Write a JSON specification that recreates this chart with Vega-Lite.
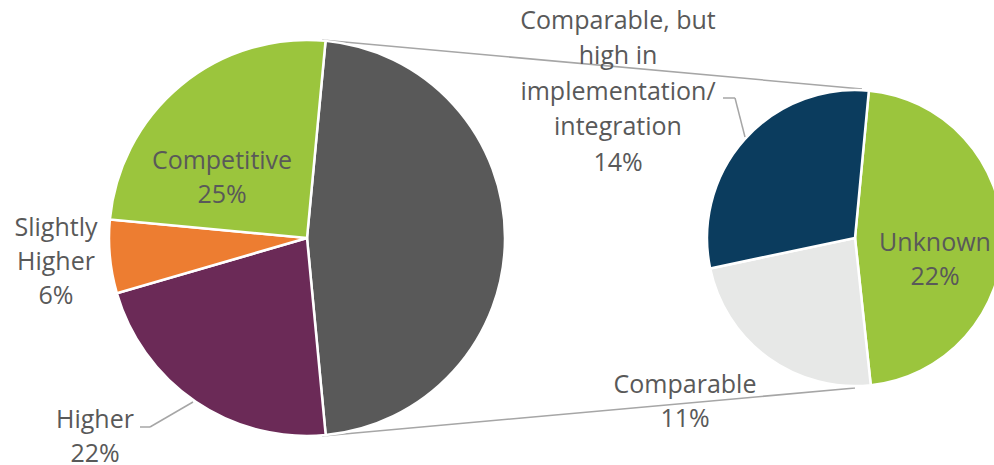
{
  "$schema": "https://vega.github.io/schema/vega-lite/v6.json",
  "width": 994,
  "height": 465,
  "padding": 0,
  "autosize": {"type": "none"},
  "background": "#ffffff",
  "config": {"view": {"stroke": null}},
  "datasets": {
    "slices": [
      {"pie": "main", "category": "Other", "value": 47, "order": 1, "label": ""},
      {"pie": "main", "category": "Higher", "value": 22, "order": 2, "label": "Higher\n22%"},
      {"pie": "main", "category": "Slightly Higher", "value": 6, "order": 3, "label": "Slightly\nHigher\n6%"},
      {"pie": "main", "category": "Competitive", "value": 25, "order": 4, "label": "Competitive\n25%"},
      {"pie": "detail", "category": "Unknown", "value": 22, "order": 1, "label": "Unknown\n22%"},
      {"pie": "detail", "category": "Comparable", "value": 11, "order": 2, "label": "Comparable\n11%"},
      {"pie": "detail", "category": "Comparable, but high in implementation/integration", "value": 14, "order": 3, "label": "Comparable, but\nhigh in\nimplementation/\nintegration\n14%"}
    ],
    "links": [
      {"pie": "main", "to": "detail", "edge": "upper"},
      {"pie": "main", "to": "detail", "edge": "lower"}
    ]
  },
  "data": {"name": "slices"},
  "encoding": {
    "x": {"field": "pie", "type": "nominal", "scale": {"type": "point", "domain": ["main", "detail"], "range": [307, 855], "padding": 0}, "axis": null},
    "y": {"field": "pie", "type": "nominal", "scale": {"type": "point", "domain": ["main", "detail"], "range": [238, 238], "padding": 0}, "axis": null}
  },
  "layer": [
    {
      "data": {"name": "links"},
      "transform": [{"filter": "datum.edge === 'upper'"}],
      "mark": {"type": "rule", "color": "#A6A6A6", "strokeWidth": 1.5, "xOffset": 15, "yOffset": -198, "x2Offset": 7, "y2Offset": -149},
      "encoding": {"x2": {"field": "to"}, "y2": {"field": "to"}}
    },
    {
      "data": {"name": "links"},
      "transform": [{"filter": "datum.edge === 'lower'"}],
      "mark": {"type": "rule", "color": "#A6A6A6", "strokeWidth": 1.5, "xOffset": 15, "yOffset": 198, "x2Offset": 0, "y2Offset": 150},
      "encoding": {"x2": {"field": "to"}, "y2": {"field": "to"}}
    },
    {
      "transform": [{"filter": "datum.pie === 'main'"}],
      "mark": {"type": "arc", "outerRadius": 198, "stroke": "#ffffff", "strokeWidth": 2.5},
      "encoding": {
        "theta": {"field": "value", "type": "quantitative", "stack": "normalize", "scale": {"domain": [0, 1], "range": [0.094, 6.377]}},
        "order": {"field": "order", "type": "quantitative"},
        "color": {"field": "category", "type": "nominal", "legend": null, "scale": {
          "domain": ["Other", "Higher", "Slightly Higher", "Competitive", "Unknown", "Comparable", "Comparable, but high in implementation/integration"],
          "range": ["#595959", "#6B2A57", "#ED7D31", "#9BC53D", "#9BC53D", "#E7E8E7", "#0B3C5E"]}}
      }
    },
    {
      "transform": [{"filter": "datum.pie === 'detail'"}],
      "mark": {"type": "arc", "outerRadius": 148, "stroke": "#ffffff", "strokeWidth": 2.5},
      "encoding": {
        "theta": {"field": "value", "type": "quantitative", "stack": "normalize", "scale": {"domain": [0, 1], "range": [0.094, 6.377]}},
        "order": {"field": "order", "type": "quantitative"},
        "color": {"field": "category", "type": "nominal", "legend": null}
      }
    },
    {
      "transform": [{"filter": "datum.category === 'Higher'"}],
      "mark": {"type": "rule", "color": "#A6A6A6", "strokeWidth": 1.5, "xOffset": -167, "yOffset": 189, "x2Offset": -157, "y2Offset": 189},
      "encoding": {"x2": {"field": "pie"}, "y2": {"field": "pie"}}
    },
    {
      "transform": [{"filter": "datum.category === 'Higher'"}],
      "mark": {"type": "rule", "color": "#A6A6A6", "strokeWidth": 1.5, "xOffset": -157, "yOffset": 189, "x2Offset": -114, "y2Offset": 164},
      "encoding": {"x2": {"field": "pie"}, "y2": {"field": "pie"}}
    },
    {
      "transform": [{"filter": "datum.order === 3 && datum.pie === 'detail'"}],
      "mark": {"type": "rule", "color": "#A6A6A6", "strokeWidth": 1.5, "xOffset": -132, "yOffset": -140, "x2Offset": -120, "y2Offset": -140},
      "encoding": {"x2": {"field": "pie"}, "y2": {"field": "pie"}}
    },
    {
      "transform": [{"filter": "datum.order === 3 && datum.pie === 'detail'"}],
      "mark": {"type": "rule", "color": "#A6A6A6", "strokeWidth": 1.5, "xOffset": -120, "yOffset": -140, "x2Offset": -110, "y2Offset": -101},
      "encoding": {"x2": {"field": "pie"}, "y2": {"field": "pie"}}
    },
    {
      "transform": [{"filter": "datum.category === 'Competitive'"}],
      "mark": {"type": "text", "font": "Open Sans", "fontSize": 25, "lineHeight": 34, "lineBreak": "\n", "color": "#595959", "align": "center", "baseline": "middle", "dx": -85, "dy": -77.5},
      "encoding": {"text": {"field": "label"}}
    },
    {
      "transform": [{"filter": "datum.category === 'Slightly Higher'"}],
      "mark": {"type": "text", "font": "Open Sans", "fontSize": 25, "lineHeight": 34, "lineBreak": "\n", "color": "#595959", "align": "center", "baseline": "middle", "dx": -251, "dy": -10.5},
      "encoding": {"text": {"field": "label"}}
    },
    {
      "transform": [{"filter": "datum.category === 'Higher'"}],
      "mark": {"type": "text", "font": "Open Sans", "fontSize": 25, "lineHeight": 34, "lineBreak": "\n", "color": "#595959", "align": "center", "baseline": "middle", "dx": -212, "dy": 181.5},
      "encoding": {"text": {"field": "label"}}
    },
    {
      "transform": [{"filter": "datum.order === 3 && datum.pie === 'detail'"}],
      "mark": {"type": "text", "font": "Open Sans", "fontSize": 25, "lineHeight": 35.5, "lineBreak": "\n", "color": "#595959", "align": "center", "baseline": "middle", "dx": -237, "dy": -217.5},
      "encoding": {"text": {"field": "label"}}
    },
    {
      "transform": [{"filter": "datum.category === 'Unknown'"}],
      "mark": {"type": "text", "font": "Open Sans", "fontSize": 25, "lineHeight": 34, "lineBreak": "\n", "color": "#595959", "align": "center", "baseline": "middle", "dx": 80, "dy": 4.5},
      "encoding": {"text": {"field": "label"}}
    },
    {
      "transform": [{"filter": "datum.category === 'Comparable'"}],
      "mark": {"type": "text", "font": "Open Sans", "fontSize": 25, "lineHeight": 34, "lineBreak": "\n", "color": "#595959", "align": "center", "baseline": "middle", "dx": -170, "dy": 146.5},
      "encoding": {"text": {"field": "label"}}
    }
  ]
}
